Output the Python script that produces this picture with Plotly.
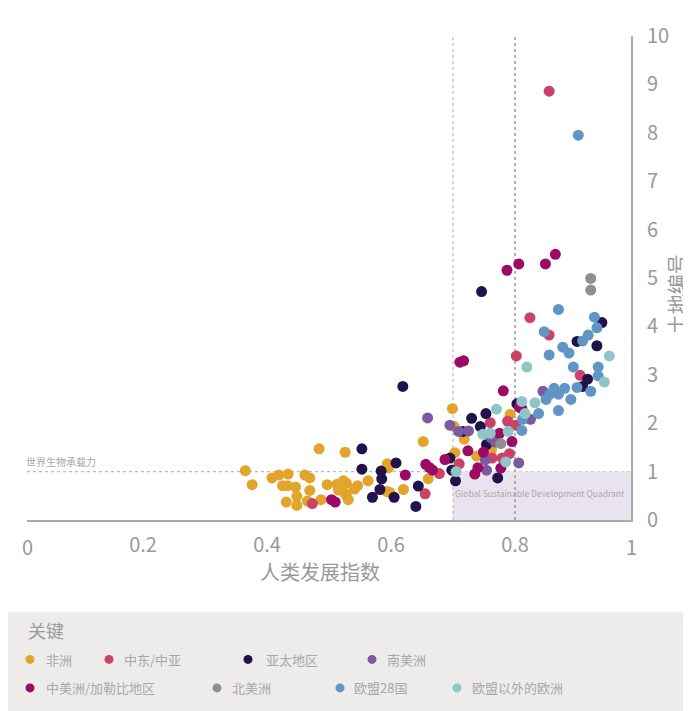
import plotly.graph_objects as go

# ---------------- data (HDI, land number) ----------------
africa_x = [0.484, 0.526, 0.365, 0.376, 0.408, 0.419, 0.434, 0.461, 0.469, 0.425, 0.433, 0.446,
            0.469, 0.497, 0.448, 0.431, 0.448, 0.465, 0.487, 0.513, 0.523, 0.528, 0.515, 0.526,
            0.531, 0.541, 0.546, 0.652, 0.594, 0.596, 0.563, 0.593, 0.598, 0.620, 0.660, 0.703,
            0.699, 0.702, 0.718, 0.792, 0.738, 0.762, 0.528]
africa_y = [1.47, 1.40, 1.02, 0.73, 0.87, 0.93, 0.95, 0.93, 0.87, 0.71, 0.71, 0.68,
            0.61, 0.73, 0.49, 0.37, 0.30, 0.39, 0.42, 0.74, 0.81, 0.76, 0.62, 0.55,
            0.42, 0.64, 0.71, 1.62, 1.16, 1.08, 0.81, 0.59, 0.57, 0.63, 0.85, 1.39,
            2.30, 1.93, 1.67, 2.18, 1.32, 1.45, 0.51]

mideast_x = [0.473, 0.655, 0.678, 0.710, 0.760, 0.788, 0.801, 0.763, 0.779, 0.791, 0.905,
             0.824, 0.855, 0.802, 0.855]
mideast_y = [0.34, 0.54, 0.96, 1.16, 2.01, 2.04, 1.96, 1.28, 1.28, 1.37, 2.99,
             4.18, 3.82, 3.39, 8.86]

asia_x = [0.553, 0.553, 0.608, 0.584, 0.585, 0.582, 0.570, 0.605, 0.644, 0.640, 0.695, 0.698,
          0.704, 0.716, 0.730, 0.744, 0.753, 0.803, 0.754, 0.772, 0.917, 0.909, 0.940, 0.900,
          0.932, 0.746, 0.619]
asia_y = [1.47, 1.05, 1.18, 1.01, 0.85, 0.63, 0.47, 0.47, 0.70, 0.28, 1.28, 1.03,
          0.81, 1.83, 2.10, 1.93, 2.20, 2.40, 1.56, 0.87, 2.91, 2.76, 4.08, 3.69,
          3.60, 4.72, 2.76]

samerica_x = [0.659, 0.695, 0.709, 0.725, 0.761, 0.768, 0.752, 0.754, 0.806, 0.825, 0.845]
samerica_y = [2.11, 1.96, 1.83, 1.84, 1.70, 1.61, 1.24, 1.03, 1.18, 2.08, 2.66]

camerica_x = [0.504, 0.510, 0.623, 0.656, 0.662, 0.667, 0.687, 0.775, 0.807, 0.811, 0.795, 0.749,
              0.724, 0.740, 0.735, 0.777, 0.781, 0.865, 0.806, 0.849, 0.787, 0.711, 0.717]
camerica_y = [0.42, 0.37, 0.93, 1.15, 1.08, 1.03, 1.25, 1.79, 2.33, 2.30, 1.62, 1.40,
              1.43, 1.08, 0.95, 1.07, 2.67, 5.49, 5.29, 5.29, 5.16, 3.26, 3.29]

namerica_x = [0.922, 0.922, 0.777]
namerica_y = [4.99, 4.75, 1.58]

eu_x = [0.902, 0.934, 0.922, 0.900, 0.890, 0.880, 0.870, 0.863, 0.856, 0.850, 0.870, 0.838,
        0.812, 0.811, 0.870, 0.928, 0.932, 0.847, 0.918, 0.909, 0.877, 0.887, 0.855, 0.894, 0.934]
eu_y = [7.95, 2.98, 2.66, 2.74, 2.49, 2.72, 2.60, 2.72, 2.60, 2.49, 2.26, 2.20,
        2.08, 1.85, 4.35, 4.19, 3.97, 3.89, 3.82, 3.70, 3.57, 3.45, 3.41, 3.16, 3.16]

noneu_x = [0.770, 0.748, 0.760, 0.789, 0.811, 0.816, 0.832, 0.785, 0.705, 0.944, 0.952, 0.819]
noneu_y = [2.29, 1.77, 1.79, 1.83, 2.45, 2.20, 2.42, 1.20, 1.00, 2.85, 3.39, 3.16]

groups = [
    ("非洲", africa_x, africa_y, "#E2A42B"),
    ("中东/中亚", mideast_x, mideast_y, "#CB4269"),
    ("亚太地区", asia_x, asia_y, "#22114A"),
    ("南美洲", samerica_x, samerica_y, "#7D5AA0"),
    ("中美洲/加勒比地区", camerica_x, camerica_y, "#9B0B63"),
    ("北美洲", namerica_x, namerica_y, "#8F8F8F"),
    ("欧盟28国", eu_x, eu_y, "#6096C6"),
    ("欧盟以外的欧洲", noneu_x, noneu_y, "#8EC6C6"),
]

x_ticks = [0.2, 0.4, 0.6, 0.8]
x_tick_text = ["0.2", "0.4", "0.6", "0.8"]
y_ticks = list(range(0, 11))

FONT = "Noto Sans CJK SC, Noto Sans, sans-serif"
X_MIN, X_MAX = 0.0129, 0.987

fig = go.Figure()
for name, xs, ys, col in groups:
    fig.add_trace(go.Scatter(x=xs, y=ys, mode="markers", name=name,
                             marker=dict(size=11, color=col, line=dict(width=0)),
                             showlegend=False, hoverinfo="x+y+name"))

shapes = []
# sustainable quadrant
shapes.append(dict(type="rect", xref="x", yref="y", x0=0.7, x1=X_MAX, y0=0, y1=1,
                   fillcolor="#E8E3EE", line=dict(width=0), layer="below"))
# biocapacity line
shapes.append(dict(type="line", xref="paper", yref="y", x0=0, x1=1, y0=1, y1=1,
                   line=dict(color="#BBBBBB", width=1.2, dash="dot"), layer="below"))
# HDI thresholds
shapes.append(dict(type="line", xref="x", yref="y", x0=0.7, x1=0.7, y0=0, y1=10.05,
                   line=dict(color="#BBBBBB", width=1.2, dash="dot"), layer="below"))
shapes.append(dict(type="line", xref="x", yref="y", x0=0.8, x1=0.8, y0=0, y1=10.05,
                   line=dict(color="#888888", width=1.2, dash="dot"), layer="below"))

# screenshot pixel -> paper helpers (plot area spans 27..631 x 27..520 on screen)
def px_x(px):
    return (px - 27) / 604.0

def px_y(py):
    return (520 - py) / 493.0

shapes.append(dict(type="rect", xref="paper", yref="paper", x0=px_x(8), x1=px_x(705),
                   y0=px_y(614), y1=px_y(725), fillcolor="#EDECEA", line=dict(width=0),
                   layer="below"))

annotations = []
legend_pos = [(30, 662, 44), (109, 662, 122), (248, 662, 264), (372, 662, 385),
              (30, 691, 44), (217, 691, 230), (340, 691, 352), (457, 691, 470)]
for (name, xs, ys, col), (mx, my, tx) in zip(groups, legend_pos):
    shapes.append(dict(type="circle", xref="paper", yref="paper",
                       xsizemode="pixel", ysizemode="pixel",
                       xanchor=px_x(mx), yanchor=px_y(my),
                       x0=-4.5, x1=4.5, y0=-4.5, y1=4.5,
                       fillcolor=col, line=dict(width=0)))
    annotations.append(dict(xref="paper", yref="paper", x=px_x(tx), y=px_y(my),
                            xanchor="left", yanchor="middle", showarrow=False,
                            text=name, font=dict(size=13, color="#A8A8A8", family=FONT)))

annotations.append(dict(xref="paper", yref="paper", x=px_x(26), y=px_y(632),
                        xanchor="left", yanchor="middle", showarrow=False,
                        text="关键", font=dict(size=18, color="#9A9A9A", family=FONT)))

# chart labels
annotations += [
    dict(xref="x", yref="y", x=0.75, y=10.05, xanchor="center", yanchor="top",
         showarrow=False, text="高度<br>人类开发",
         font=dict(size=10.5, color="#A8A8A8", family=FONT)),
    dict(xref="x", yref="y", x=0.898, y=10.05, xanchor="center", yanchor="top",
         showarrow=False, text="非常高的<br>人类开发",
         font=dict(size=10.5, color="#A8A8A8", family=FONT)),
    dict(xref="paper", yref="y", x=px_x(24), y=1.0, xanchor="left", yanchor="bottom",
         showarrow=False, text="世界生物承载力", yshift=1,
         font=dict(size=10, color="#A8A8A8", family=FONT)),
    dict(xref="x", yref="y", x=0.840, y=0.55, xanchor="center", yanchor="middle",
         showarrow=False, text="Global Sustainable Development Quadrant",
         font=dict(size=8.5, color="#AAAAAA", family=FONT)),
    dict(xref="paper", yref="paper", x=0, y=0, xanchor="center", yanchor="top",
         yshift=-10, showarrow=False, text="0",
         font=dict(size=20, color="#999999", family=FONT)),
    dict(xref="paper", yref="paper", x=1, y=0, xanchor="center", yanchor="top",
         yshift=-10, showarrow=False, text="1",
         font=dict(size=20, color="#999999", family=FONT)),
    dict(xref="paper", yref="paper", x=px_x(320), y=px_y(572), xanchor="center",
         yanchor="middle", showarrow=False, text="人类发展指数",
         font=dict(size=20, color="#999999", family=FONT)),
    dict(xref="paper", yref="paper", x=px_x(676), y=px_y(290), xanchor="center",
         yanchor="middle", showarrow=False, text="土地编号", textangle=-90,
         font=dict(size=20, color="#999999", family=FONT)),
]

# the page adds an 8px body offset, so margins are reduced by 8px
fig.update_layout(
    width=691, height=711,
    margin=dict(l=19, r=68, t=19, b=199),
    paper_bgcolor="white", plot_bgcolor="white",
    font=dict(family=FONT, color="#999999"),
    shapes=shapes, annotations=annotations,
    showlegend=False,
    xaxis=dict(range=[X_MIN, X_MAX], tickvals=x_ticks, ticktext=x_tick_text,
               showgrid=False, zeroline=False, showline=True, linecolor="#AAAAAA",
               linewidth=1.5, ticks="", tickfont=dict(size=20, color="#999999"),
               ticklabelstandoff=6),
    yaxis=dict(range=[0, 10], tickvals=y_ticks, side="right", showgrid=False,
               zeroline=False, showline=True, linecolor="#AAAAAA", linewidth=2,
               ticks="", tickfont=dict(size=20, color="#999999"),
               ticklabelstandoff=10),
)

fig.write_html("out.html")
